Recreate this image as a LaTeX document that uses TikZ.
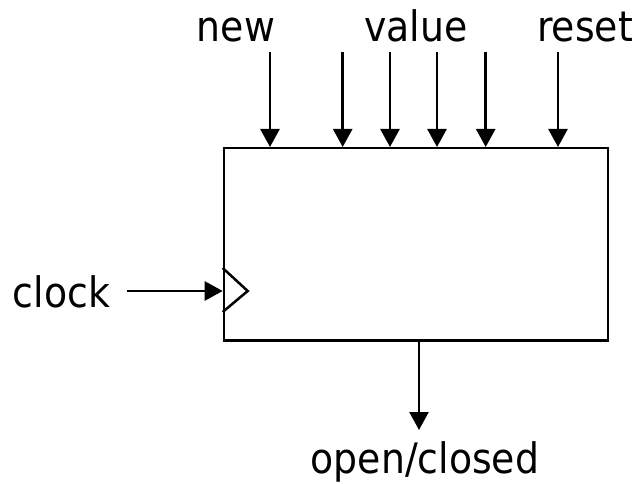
\documentclass[tikz,border=0pt]{standalone}
\usepackage{fontspec}
\setsansfont{DejaVu Sans Condensed}
\usetikzlibrary{arrows.meta}

\begin{document}
\begin{tikzpicture}[x=1pt,y=-1pt,line width=2.5pt,
    sig/.style={-{Triangle[length=18pt,width=19pt]}},
    lbl/.style={font=\sffamily\fontsize{42}{48}\selectfont,inner sep=0pt}]
  \useasboundingbox (0,0) rectangle (637,484);
  % the lock block
  \node[draw,minimum width=384pt,minimum height=192pt,anchor=north west,
        inner sep=0pt] (fsm) at (222.7,147) {};
  % inputs from the top
  \node[lbl,anchor=base] (new) at (236,42) {new};
  \node[lbl,anchor=base] (value) at (416,42) {value};
  \node[lbl,anchor=base] (reset) at (585,42) {reset};
  \foreach \x/\n in {270/n,342.7/v1,390/v2,437/v3,485.7/v4,558/r}{
    \coordinate (in\n) at (\x,52);
    \draw[sig] (in\n) -- (in\n |- fsm.north);
  }
  % clock input with edge marker
  \node[lbl,anchor=base] (clock) at (61.5,307) {clock};
  \coordinate (clk) at (222.7,291);
  \draw[sig] ([xshift=16pt]clock.east |- clk) -- (clk);
  \draw (clk) ++(0,-23) -- ++(25,23) -- ++(-25,21);
  % output
  \node[lbl,anchor=base] (open) at (425,473) {open/closed};
  \coordinate (out) at (419,339);
  \draw[sig] (out) -- (out |- 0,430);
\end{tikzpicture}
\end{document}
